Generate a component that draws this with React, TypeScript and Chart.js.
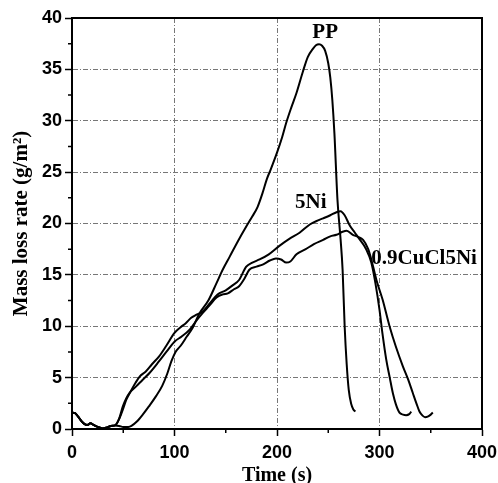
import React, { useEffect, useRef } from 'react';
import { Chart, registerables } from 'chart.js';

Chart.register(...registerables);

// Shared start segment (all three samples overlap before ignition)
const startTime = [0, 3, 6, 9, 12, 15, 18, 21, 25, 30, 34, 38, 42];
const startRate = [1.6, 1.55, 1.2, 0.8, 0.5, 0.4, 0.55, 0.4, 0.2, 0.05, 0.15, 0.3, 0.35];

// PP
const ppTime = [46, 50, 55, 58, 63, 69, 75, 82, 88, 93, 97, 101, 106, 112, 118, 124, 133, 141, 147, 154, 162, 170, 176, 181, 186, 190, 194, 200, 205, 209, 214, 219, 225, 230, 235, 238, 241, 244, 247, 250, 252, 254, 256, 259, 262, 264, 266, 268, 270, 272.5, 274.5, 276.5];
const ppRate = [0.3, 0.2, 0.2, 0.3, 0.7, 1.4, 2.2, 3.2, 4.2, 5.4, 6.6, 7.5, 8.1, 9.0, 9.9, 11.2, 12.5, 14.2, 15.5, 16.8, 18.3, 19.7, 20.7, 21.6, 23.0, 24.3, 25.3, 26.9, 28.4, 29.8, 31.3, 32.7, 34.7, 36.2, 37.0, 37.35, 37.45, 37.3, 36.8, 35.6, 34.2, 32.0, 28.8, 22.3, 18.5, 15.5, 10.0, 6.3, 3.8, 2.4, 1.9, 1.7];

// 5Ni
const ni5Time = [47, 50, 53, 58, 62, 66, 72, 78, 85, 92, 100, 106, 111, 116, 121, 127, 135, 142, 150, 157, 163, 170, 176, 183, 192, 202, 212, 222, 232, 240, 245, 252, 258, 262, 266, 271, 276, 281, 287, 292, 296, 300, 303, 306.5, 310, 313, 316, 319.5, 323, 326, 329, 331];
const ni5Rate = [1.2, 2.0, 2.85, 3.8, 4.5, 5.1, 5.6, 6.3, 7.07, 8.1, 9.35, 9.9, 10.3, 10.8, 11.1, 11.4, 12.3, 13.1, 13.5, 14.0, 14.5, 15.8, 16.2, 16.5, 17.0, 17.8, 18.5, 19.1, 19.9, 20.3, 20.5, 20.8, 21.1, 21.2, 20.8, 19.8, 19.1, 18.4, 17.5, 16.2, 14.2, 11.6, 9.2, 6.8, 5.0, 3.5, 2.4, 1.6, 1.4, 1.35, 1.45, 1.7];

// 0.9CuCl5Ni
const cuTime = [46, 49.6, 53, 56, 62.6, 69, 75.6, 85, 92, 100, 107, 115, 121, 127.6, 134, 141, 147, 152, 158, 163, 168, 173, 180, 186, 193, 199, 204, 209, 213, 219, 228, 236, 245, 252, 258, 264, 268, 274, 279, 284, 289, 292, 295, 297, 303, 309.8, 316, 322.8, 328, 332.5, 336, 339, 342, 344.5, 347, 350, 352];
const cuRate = [1.0, 2.2, 3.0, 3.5, 4.15, 4.8, 5.45, 6.6, 7.5, 8.5, 9.0, 9.7, 10.5, 11.3, 12.0, 12.8, 13.1, 13.2, 13.6, 13.9, 14.6, 15.5, 15.8, 16.0, 16.4, 16.6, 16.5, 16.2, 16.3, 17.0, 17.5, 18.0, 18.4, 18.75, 18.9, 19.2, 19.3, 18.9, 18.7, 18.4, 17.5, 16.5, 15.3, 14.5, 12.6, 10.0, 8.0, 6.1, 4.8, 3.5, 2.5, 1.7, 1.3, 1.15, 1.2, 1.4, 1.6];

// Curve labels (text, time, rate anchor)
const labelText = ['PP', '5Ni', '0.9CuCl5Ni'];
const labelTime = [247, 233, 292];
const labelRate = [38.6, 22.0, 16.6];
const labelSize = [21, 21, 21];
const labelAlign: CanvasTextAlign[] = ['center', 'center', 'left'];

const xMinor = [50, 150, 250, 350];
const yMinor = [2.5, 7.5, 12.5, 17.5, 22.5, 27.5, 32.5, 37.5];

function series(t: number[], r: number[]) {
  const pts = startTime.map((x, i) => ({ x, y: startRate[i] }));
  return pts.concat(t.map((x, i) => ({ x, y: r[i] })));
}

const decorPlugin = {
  id: 'decor',
  afterDraw(chart: any) {
    const { ctx, chartArea: a, scales } = chart;
    const x = scales.x;
    const y = scales.y;
    ctx.save();
    ctx.strokeStyle = '#000';
    ctx.lineWidth = 1.5;
    ctx.beginPath();
    for (const v of xMinor) {
      const px = x.getPixelForValue(v);
      ctx.moveTo(px, a.bottom);
      ctx.lineTo(px, a.bottom + 4);
    }
    for (const v of yMinor) {
      const py = y.getPixelForValue(v);
      ctx.moveTo(a.left, py);
      ctx.lineTo(a.left - 4, py);
    }
    ctx.stroke();
    ctx.lineWidth = 2;
    ctx.strokeRect(a.left, a.top, a.right - a.left, a.bottom - a.top);
    ctx.fillStyle = '#000';
    ctx.textBaseline = 'middle';
    labelText.forEach((txt, i) => {
      ctx.font = `bold ${labelSize[i]}px "Liberation Serif"`;
      ctx.textAlign = labelAlign[i];
      ctx.fillText(txt, x.getPixelForValue(labelTime[i]), y.getPixelForValue(labelRate[i]));
    });
    ctx.restore();
  },
};

export default function App() {
  const ref = useRef<HTMLCanvasElement>(null);
  useEffect(() => {
    if (!ref.current) return;
    const lineStyle = {
      borderColor: '#000',
      borderWidth: 2,
      pointRadius: 0,
      fill: false,
      cubicInterpolationMode: 'monotone' as const,
    };
    const gridOpts = {
      color: '#777',
      lineWidth: 1,
      tickLength: 7,
      tickColor: '#000',
      tickWidth: 1.5,
    };
    const chart = new Chart(ref.current, {
      type: 'line',
      data: {
        datasets: [
          { label: 'PP', data: series(ppTime, ppRate), ...lineStyle },
          { label: '5Ni', data: series(ni5Time, ni5Rate), ...lineStyle },
          { label: '0.9CuCl5Ni', data: series(cuTime, cuRate), ...lineStyle },
        ],
      },
      options: {
        animation: false,
        responsive: false,
        layout: { padding: { top: 18, right: 16, left: 0, bottom: 0 } },
        plugins: { legend: { display: false }, tooltip: { enabled: false } },
        scales: {
          x: {
            type: 'linear',
            min: 0,
            max: 400,
            afterFit: (s: any) => { s.height = 54; s.paddingLeft = 0; s.paddingRight = 0; },
            ticks: { stepSize: 100, color: '#000', padding: 6, font: { family: 'Liberation Sans', size: 18, weight: 'bold' } },
            grid: gridOpts,
            border: { color: '#000', width: 2, dash: [5, 2, 1, 2] },
            title: {
              display: true,
              text: 'Time (s)',
              color: '#000',
              font: { family: 'Liberation Serif', size: 20, weight: 'bold' },
              padding: { top: 0, bottom: -5 },
            },
          },
          y: {
            type: 'linear',
            min: 0,
            max: 40,
            afterFit: (s: any) => { s.width = 72; },
            ticks: { stepSize: 5, color: '#000', padding: 3, font: { family: 'Liberation Sans', size: 18, weight: 'bold' } },
            grid: gridOpts,
            border: { color: '#000', width: 2, dash: [5, 2, 1, 2] },
            title: {
              display: true,
              text: 'Mass loss rate (g/m²)',
              color: '#000',
              font: { family: 'Liberation Serif', size: 21, weight: 'bold' },
              padding: { top: 9, bottom: 0 },
            },
          },
        },
      },
      plugins: [decorPlugin],
    });
    return () => chart.destroy();
  }, []);
  return (
    <div style={{ position: 'fixed', left: 0, top: 0, width: 498, height: 483, background: '#fff' }}>
      <canvas ref={ref} width={498} height={483} style={{ width: 498, height: 483 }} />
    </div>
  );
}
